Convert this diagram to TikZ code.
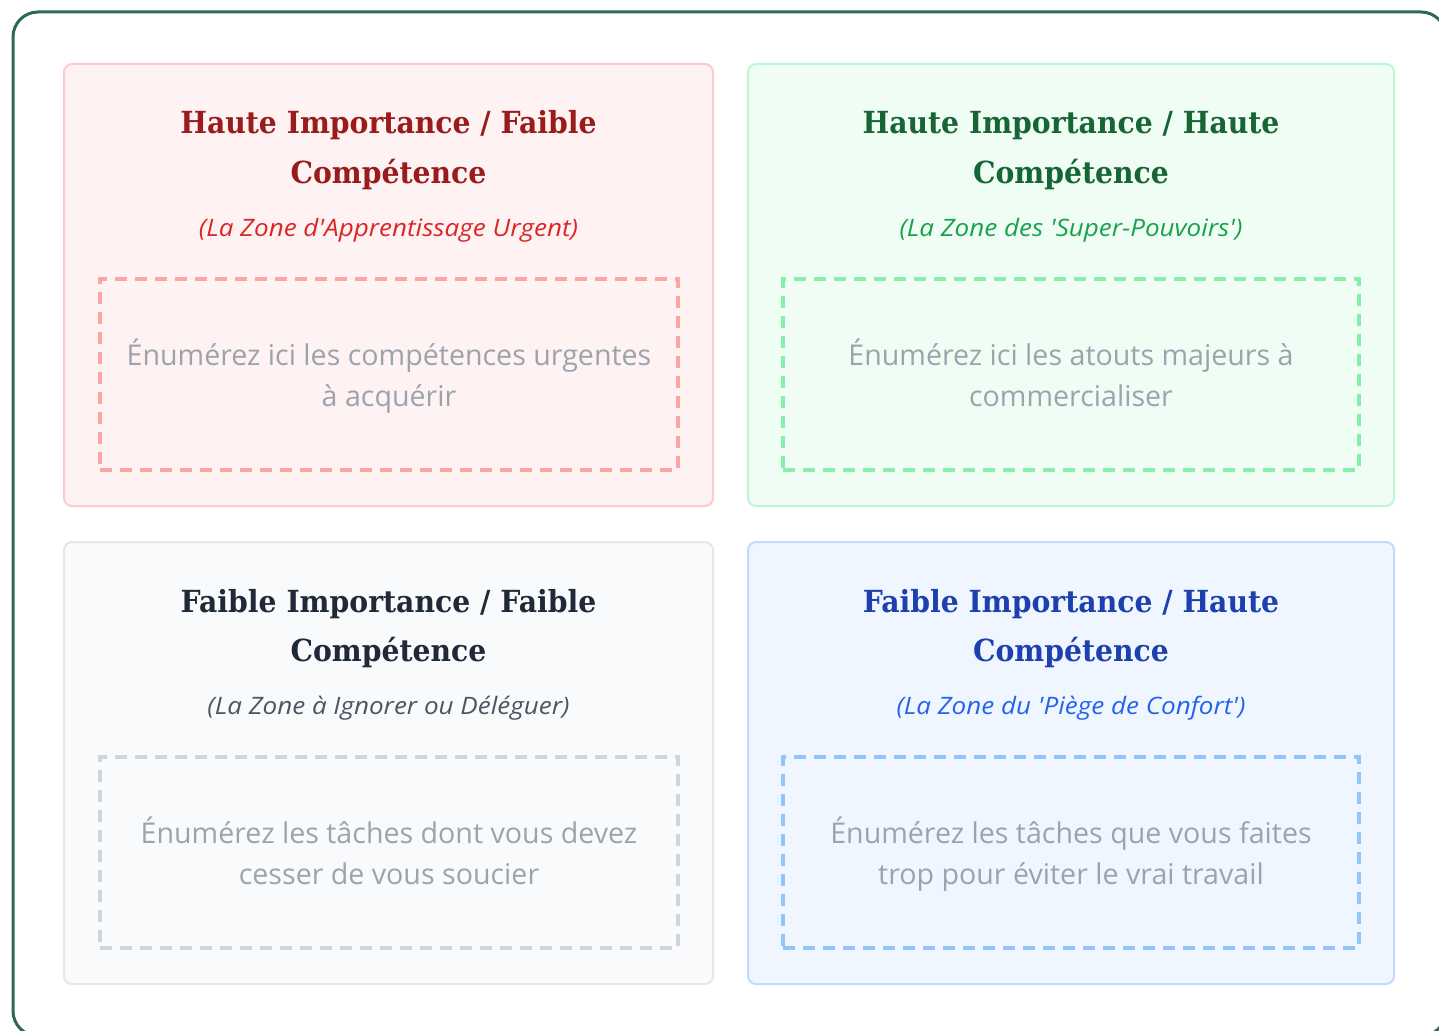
\documentclass[tikz,border=0pt]{standalone}
\usepackage{fontspec}
\setmainfont{Open Sans}
\newfontfamily\titlefont{DejaVu Serif}[FakeStretch=0.93]
\newfontfamily\subfont{Open Sans}[Ligatures=TeXOff,ItalicFont={Open Sans Italic},ItalicFeatures={FakeStretch=1.085}]
\newfontfamily\bodyfont{Open Sans}[Ligatures=TeXOff]
\definecolor{frame}{HTML}{2D6A4F}
\definecolor{bodytxt}{HTML}{9CA3AF}
\definecolor{rfill}{HTML}{FEF2F2}\definecolor{rborder}{HTML}{FECACA}\definecolor{rdash}{HTML}{FCA5A5}\definecolor{rtitle}{HTML}{991B1B}\definecolor{rsub}{HTML}{DC2626}
\definecolor{gfill}{HTML}{F0FDF4}\definecolor{gborder}{HTML}{BBF7D0}\definecolor{gdash}{HTML}{86EFAC}\definecolor{gtitle}{HTML}{166534}\definecolor{gsub}{HTML}{16A34A}
\definecolor{nfill}{HTML}{F9FAFB}\definecolor{nborder}{HTML}{E5E7EB}\definecolor{ndash}{HTML}{D1D5DB}\definecolor{ntitle}{HTML}{1F2937}\definecolor{nsub}{HTML}{4B5563}
\definecolor{bfill}{HTML}{EFF6FF}\definecolor{bborder}{HTML}{BFDBFE}\definecolor{bdash}{HTML}{93C5FD}\definecolor{btitle}{HTML}{1E40AF}\definecolor{bsub}{HTML}{2563EB}
\begin{document}
\begin{tikzpicture}[x=1pt,y=-1pt,
  quad/.style={rectangle,rounded corners=8pt,line width=2pt,minimum width=649pt,minimum height=442pt,inner sep=0pt},
  slot/.style={rectangle,line width=4pt,dash pattern=on 12pt off 8pt,minimum width=578pt,minimum height=191pt,inner sep=0pt},
  ttl/.style={anchor=base,inner sep=0pt,font=\titlefont\bfseries\fontsize{30.4}{36}\selectfont},
  sub/.style={anchor=base,inner sep=0pt,font=\subfont\itshape\fontsize{24}{30}\selectfont},
  bod/.style={anchor=base,inner sep=0pt,text=bodytxt,font=\bodyfont\fontsize{28.6}{34}\selectfont}]
\useasboundingbox (0,0) rectangle (1439,1030);
\draw[frame,line width=3pt,rounded corners=25pt] (13,12) rectangle (1446,1036);
% quadrants
\node[quad,fill=rfill,draw=rborder] (q1) at (388.5,285) {};
\node[quad,fill=gfill,draw=gborder,minimum width=646pt] (q2) at (1071,285) {};
\node[quad,fill=nfill,draw=nborder] (q3) at (388.5,763) {};
\node[quad,fill=bfill,draw=bborder,minimum width=646pt] (q4) at (1071,763) {};
% dashed slots
\node[slot,draw=rdash] (s1) at (389,374.5) {};
\node[slot,draw=gdash,minimum width=576pt] (s2) at (1071,374.5) {};
\node[slot,draw=ndash] (s3) at (389,852.5) {};
\node[slot,draw=bdash,minimum width=576pt] (s4) at (1071,852.5) {};
% TL
\node[ttl,text=rtitle] (t1a) at (388.5,134) {Haute Importance / Faible};
\node[ttl,text=rtitle] (t1b) at (388.5,183) {Compétence};
\node[sub,text=rsub] (u1) at (388.5,236) {(La Zone d'Apprentissage Urgent)};
\node[bod] (b1a) at (389,365) {Énumérez ici les compétences urgentes};
\node[bod] (b1b) at (389,406) {à acquérir};
% TR
\node[ttl,text=gtitle] (t2a) at (1071,134) {Haute Importance / Haute};
\node[ttl,text=gtitle] (t2b) at (1071,183) {Compétence};
\node[sub,text=gsub] (u2) at (1071,236) {(La Zone des 'Super-Pouvoirs')};
\node[bod] (b2a) at (1071,365) {Énumérez ici les atouts majeurs à};
\node[bod] (b2b) at (1071,406) {commercialiser};
% BL
\node[ttl,text=ntitle] (t3a) at (388.5,612) {Faible Importance / Faible};
\node[ttl,text=ntitle] (t3b) at (388.5,661) {Compétence};
\node[sub,text=nsub] (u3) at (388.5,714) {(La Zone à Ignorer ou Déléguer)};
\node[bod] (b3a) at (389,843) {Énumérez les tâches dont vous devez};
\node[bod] (b3b) at (389,884) {cesser de vous soucier};
% BR
\node[ttl,text=btitle] (t4a) at (1071,612) {Faible Importance / Haute};
\node[ttl,text=btitle] (t4b) at (1071,661) {Compétence};
\node[sub,text=bsub] (u4) at (1071,714) {(La Zone du 'Piège de Confort')};
\node[bod] (b4a) at (1071,843) {Énumérez les tâches que vous faites};
\node[bod] (b4b) at (1071,884) {trop pour éviter le vrai travail};
\end{tikzpicture}
\end{document}
